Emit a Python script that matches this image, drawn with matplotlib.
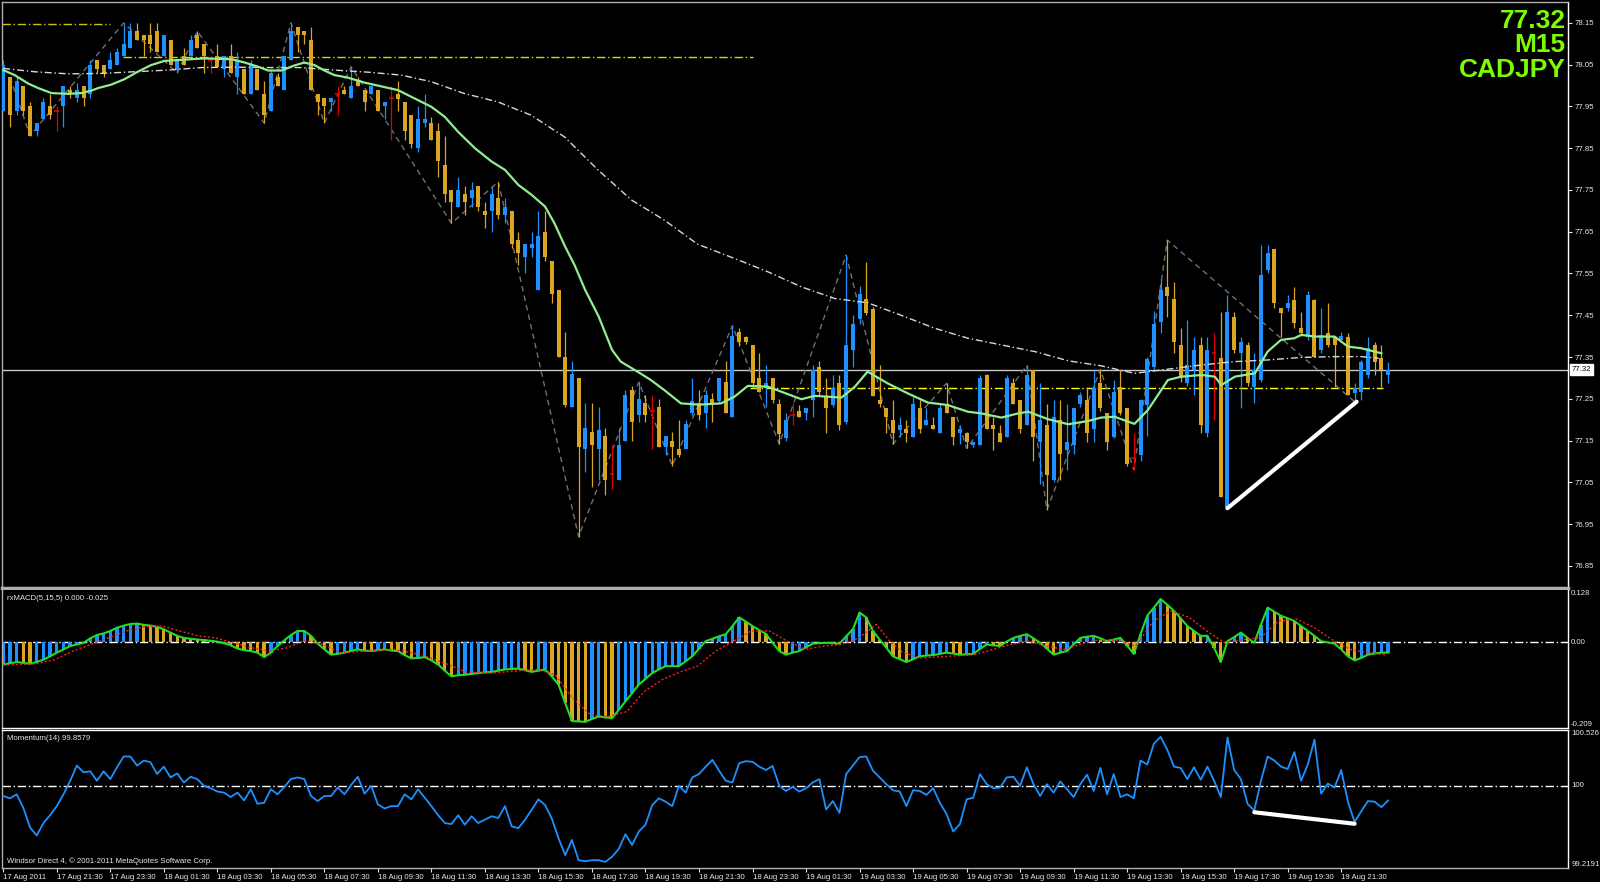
import numpy as np
import matplotlib.pyplot as plt
from matplotlib.transforms import blended_transform_factory

plt.rcParams['font.family'] = ['Liberation Sans', 'DejaVu Sans']

# ------------------------------------------------------------
# CADJPY M15, 17-19 Aug 2011
# ------------------------------------------------------------
opens = [77.94, 78.02, 77.94, 78.00, 77.95, 77.89, 77.92, 77.95, 77.94, 77.95,
         77.99, 77.97, 78.00, 77.98, 78.06, 78.05, 78.04, 78.05, 78.07, 78.09,
         78.13, 78.12, 78.12, 78.13, 78.07, 78.11, 78.04, 78.07, 78.07, 78.12,
         78.10, 78.06, 78.07, 78.04, 78.07, 78.02, 78.04, 77.98, 78.04, 77.98,
         77.94, 78.02, 77.99, 78.06, 78.14, 78.13, 78.11, 77.98, 77.97, 77.96,
         77.98, 77.99, 77.97, 78.01, 77.99, 77.98, 77.99, 77.95, 77.97, 77.98,
         77.96, 77.93, 77.85, 77.91, 77.91, 77.89, 77.81, 77.75, 77.71, 77.74,
         77.73, 77.76, 77.70, 77.70, 77.73, 77.69, 77.70, 77.63, 77.59, 77.61,
         77.51, 77.65, 77.58, 77.51, 77.35, 77.23, 77.30, 77.13, 77.17, 77.13,
         77.16, 77.07, 77.055, 77.15, 77.27, 77.21, 77.24, 77.22, 77.23, 77.135,
         77.15, 77.13, 77.13, 77.215, 77.24, 77.215, 77.25, 77.245, 77.29, 77.207,
         77.41, 77.397, 77.378, 77.30, 77.277, 77.30, 77.237, 77.155, 77.21, 77.22,
         77.217, 77.247, 77.327, 77.255, 77.235, 77.287, 77.195, 77.367, 77.44, 77.49,
         77.466, 77.247, 77.227, 77.199, 77.175, 77.177, 77.159, 77.227, 77.187, 77.187,
         77.167, 77.237, 77.207, 77.167, 77.167, 77.139, 77.139, 77.307, 77.187, 77.167,
         77.159, 77.287, 77.247, 77.187, 77.319, 77.147, 77.187, 77.055, 77.199, 77.127,
         77.139, 77.237, 77.247, 77.177, 77.287, 77.217, 77.159, 77.279, 77.227, 77.108,
         77.115, 77.235, 77.327, 77.435, 77.518, 77.49, 77.379, 77.287, 77.319, 77.379,
         77.167, 77.359, 77.347, 76.988, 77.447, 77.359, 77.379, 77.279, 77.295, 77.558,
         77.608, 77.467, 77.467, 77.487, 77.419, 77.399, 77.487, 77.367, 77.407, 77.399,
         77.39, 77.399, 77.265, 77.267, 77.307, 77.379, 77.347, 77.307]
highs = [78.06, 78.02, 78.02, 78.00, 77.96, 77.91, 77.97, 77.98, 77.95, 78.00,
         78.00, 78.005, 78.00, 78.06, 78.06, 78.05, 78.08, 78.09, 78.15, 78.15,
         78.15, 78.12, 78.15, 78.15, 78.12, 78.11, 78.06, 78.09, 78.12, 78.13,
         78.10, 78.07, 78.10, 78.07, 78.10, 78.08, 78.04, 78.06, 78.04, 78.01,
         78.04, 78.03, 78.07, 78.15, 78.14, 78.13, 78.14, 77.98, 77.97, 77.97,
         78.00, 78.00, 78.045, 78.02, 77.99, 78.00, 77.99, 77.96, 78.00, 78.01,
         77.96, 77.93, 77.95, 77.98, 77.925, 77.91, 77.88, 77.75, 77.78, 77.76,
         77.77, 77.76, 77.72, 77.76, 77.77, 77.73, 77.70, 77.65, 77.62, 77.65,
         77.70, 77.70, 77.58, 77.51, 77.41, 77.34, 77.30, 77.24, 77.24, 77.23,
         77.18, 77.14, 77.18, 77.27, 77.28, 77.29, 77.26, 77.26, 77.25, 77.16,
         77.17, 77.20, 77.20, 77.30, 77.27, 77.27, 77.265, 77.30, 77.34, 77.425,
         77.42, 77.40, 77.378, 77.36, 77.33, 77.30, 77.25, 77.215, 77.24, 77.235,
         77.227, 77.33, 77.34, 77.30, 77.307, 77.307, 77.594, 77.45, 77.52, 77.578,
         77.47, 77.33, 77.227, 77.247, 77.207, 77.199, 77.255, 77.247, 77.227, 77.207,
         77.24, 77.287, 77.207, 77.187, 77.17, 77.147, 77.307, 77.31, 77.207, 77.187,
         77.307, 77.30, 77.247, 77.33, 77.319, 77.287, 77.237, 77.247, 77.247, 77.237,
         77.227, 77.267, 77.279, 77.319, 77.319, 77.217, 77.295, 77.32, 77.227, 77.167,
         77.25, 77.35, 77.46, 77.538, 77.63, 77.53, 77.419, 77.439, 77.399, 77.399,
         77.399, 77.407, 77.458, 77.498, 77.458, 77.399, 77.387, 77.359, 77.618, 77.618,
         77.608, 77.467, 77.498, 77.518, 77.458, 77.508, 77.49, 77.467, 77.479, 77.40,
         77.41, 77.407, 77.287, 77.343, 77.399, 77.387, 77.379, 77.339]
lows = [77.94, 77.90, 77.93, 77.93, 77.88, 77.88, 77.92, 77.92, 77.89, 77.90,
        77.97, 77.96, 77.95, 77.97, 78.03, 78.02, 78.04, 78.05, 78.07, 78.09,
        78.11, 78.07, 78.08, 78.08, 78.07, 78.05, 78.03, 78.05, 78.07, 78.09,
        78.03, 78.03, 78.045, 78.02, 78.03, 77.98, 77.98, 77.98, 77.99, 77.91,
        77.94, 78.00, 77.99, 78.06, 78.08, 78.10, 77.99, 77.93, 77.91, 77.94,
        77.93, 77.98, 77.97, 78.00, 77.94, 77.98, 77.94, 77.92, 77.87, 77.94,
        77.87, 77.85, 77.84, 77.90, 77.87, 77.78, 77.72, 77.67, 77.71, 77.69,
        77.71, 77.70, 77.66, 77.65, 77.68, 77.67, 77.61, 77.57, 77.55, 77.59,
        77.51, 77.58, 77.48, 77.35, 77.23, 77.23, 76.92, 77.075, 77.04, 77.055,
        77.02, 77.035, 77.055, 77.15, 77.15, 77.195, 77.195, 77.13, 77.135, 77.115,
        77.09, 77.11, 77.13, 77.21, 77.20, 77.18, 77.195, 77.24, 77.217, 77.207,
        77.376, 77.38, 77.275, 77.267, 77.231, 77.24, 77.142, 77.15, 77.187, 77.207,
        77.199, 77.207, 77.26, 77.167, 77.23, 77.175, 77.19, 77.327, 77.43, 77.45,
        77.256, 77.23, 77.167, 77.142, 77.159, 77.147, 77.159, 77.167, 77.187, 77.177,
        77.167, 77.217, 77.14, 77.142, 77.131, 77.135, 77.139, 77.177, 77.127, 77.147,
        77.159, 77.237, 77.167, 77.187, 77.10, 77.047, 76.984, 77.05, 77.055, 77.079,
        77.119, 77.23, 77.147, 77.147, 77.22, 77.127, 77.155, 77.21, 77.088, 77.08,
        77.10, 77.16, 77.32, 77.407, 77.447, 77.359, 77.29, 77.28, 77.259, 77.167,
        77.159, 77.199, 77.016, 76.988, 77.36, 77.227, 77.28, 77.239, 77.29, 77.55,
        77.467, 77.399, 77.46, 77.42, 77.40, 77.39, 77.351, 77.36, 77.375, 77.279,
        77.39, 77.259, 77.243, 77.247, 77.30, 77.307, 77.279, 77.287]
closes = [78.05, 77.93, 78.01, 77.94, 77.88, 77.91, 77.96, 77.93, 77.94, 78.00,
          77.98, 77.99, 77.97, 78.05, 78.04, 78.03, 78.06, 78.08, 78.10, 78.13,
          78.11, 78.11, 78.10, 78.08, 78.12, 78.05, 78.06, 78.05, 78.11, 78.09,
          78.07, 78.06, 78.045, 78.07, 78.03, 78.06, 77.98, 78.05, 77.99, 77.93,
          78.03, 78.00, 78.07, 78.13, 78.12, 78.12, 77.99, 77.96, 77.95, 77.97,
          77.98, 77.98, 78.00, 78.00, 77.96, 78.00, 77.94, 77.96, 77.97, 77.967,
          77.89, 77.86, 77.92, 77.92, 77.87, 77.82, 77.74, 77.72, 77.75, 77.72,
          77.75, 77.71, 77.69, 77.74, 77.69, 77.71, 77.62, 77.60, 77.62, 77.62,
          77.64, 77.59, 77.50, 77.35, 77.235, 77.31, 77.135, 77.18, 77.14, 77.175,
          77.055, 77.07, 77.14, 77.26, 77.195, 77.25, 77.21, 77.22, 77.135, 77.16,
          77.135, 77.115, 77.19, 77.245, 77.21, 77.26, 77.235, 77.30, 77.217, 77.40,
          77.387, 77.387, 77.287, 77.267, 77.287, 77.247, 77.165, 77.199, 77.21, 77.207,
          77.227, 77.319, 77.267, 77.227, 77.275, 77.187, 77.378, 77.43, 77.50, 77.456,
          77.256, 77.237, 77.207, 77.167, 77.187, 77.167, 77.237, 77.177, 77.199, 77.177,
          77.227, 77.217, 77.159, 77.177, 77.147, 77.147, 77.30, 77.177, 77.177, 77.147,
          77.30, 77.237, 77.177, 77.307, 77.159, 77.199, 77.067, 77.207, 77.119, 77.147,
          77.227, 77.259, 77.167, 77.277, 77.227, 77.147, 77.267, 77.215, 77.095, 77.108,
          77.247, 77.346, 77.43, 77.51, 77.496, 77.387, 77.299, 77.331, 77.367, 77.187,
          77.367, 77.359, 77.016, 77.458, 77.367, 77.387, 77.287, 77.319, 77.546, 77.598,
          77.479, 77.456, 77.479, 77.431, 77.407, 77.498, 77.351, 77.403, 77.379, 77.379,
          77.40, 77.259, 77.275, 77.339, 77.371, 77.339, 77.319, 77.32]

# moving averages (bar index, price)
ma_fast_x = [0, 1.7, 3.7, 5.2, 7.2, 9.7, 11.7, 13.2, 14.2, 16.1, 18.1, 20.1, 22.1, 24.1,
             26.1, 28.1, 30.1, 32.1, 34.1, 36.1, 38.1, 39.6, 41.6, 43.5, 45.0, 46.5, 48.0,
             49.5, 51.5, 54, 59, 62, 64, 66, 68, 70.5, 73, 75, 77, 79, 81, 82.4, 84, 85.4,
             87, 89, 91, 92.3, 94.8, 96.8, 98.8, 101.3, 104, 107.3, 109.3, 111.3, 114.3,
             116.3, 119.3, 121.3, 123.3, 125.3, 127.3, 129.2, 132.2, 135.2, 138.2, 141.2,
             144.2, 146.2, 149.2, 151.7, 153.2, 156.2, 159.2, 162.2, 164.1, 166.1, 169.1,
             171.1, 174.1, 176.1, 179.1, 181.1, 182.1, 184.1, 187.1, 189, 191, 193, 194,
             196.1, 199, 201, 203, 206]
ma_fast_y = [78.037, 78.025, 78.005, 77.994, 77.982, 77.980, 77.982, 77.988, 77.994, 78.002,
             78.015, 78.033, 78.049, 78.059, 78.061, 78.063, 78.065, 78.064, 78.063, 78.055,
             78.045, 78.036, 78.036, 78.048, 78.055, 78.049, 78.036, 78.025, 78.019, 78.007,
             77.989, 77.965, 77.949, 77.925, 77.889, 77.850, 77.818, 77.798, 77.762, 77.738,
             77.710, 77.670, 77.614, 77.570, 77.510, 77.447, 77.367, 77.339, 77.315, 77.295,
             77.271, 77.239, 77.236, 77.239, 77.255, 77.281, 77.279, 77.267, 77.249, 77.257,
             77.255, 77.253, 77.279, 77.315, 77.287, 77.263, 77.241, 77.235, 77.219, 77.215,
             77.205, 77.215, 77.219, 77.201, 77.189, 77.197, 77.205, 77.207, 77.190, 77.223,
             77.295, 77.303, 77.307, 77.303, 77.283, 77.303, 77.311, 77.363, 77.391, 77.395,
             77.403, 77.399, 77.399, 77.375, 77.371, 77.359]
ma_slow_x = [0, 4.7, 9.7, 14.6, 19.6, 24.6, 29.6, 34.6, 39.6, 44.5, 49.5, 54.5, 59.5, 64,
             68.9, 73.9, 78.9, 83.9, 88.9, 93.9, 98.8, 103.8, 109.3, 114.3, 119.3, 124.3,
             129.2, 134.2, 139.2, 144.2, 149.2, 154.2, 159.2, 164.1, 169.1, 174.1, 179.1,
             184.1, 189, 194, 199, 203, 205.6]
ma_slow_y = [78.041, 78.033, 78.028, 78.029, 78.033, 78.037, 78.043, 78.044, 78.043, 78.043,
             78.037, 78.032, 78.025, 78.009, 77.981, 77.961, 77.929, 77.877, 77.798, 77.726,
             77.678, 77.620, 77.586, 77.554, 77.518, 77.490, 77.480, 77.450, 77.419, 77.395,
             77.379, 77.363, 77.341, 77.329, 77.311, 77.321, 77.331, 77.339, 77.343, 77.349,
             77.351, 77.351, 77.347]

# zigzag swing points (bar index, price)
zz_x = [1, 4, 18, 26, 29, 39, 43, 48, 52, 67, 74, 86, 95, 100, 109, 116, 126, 133,
        141, 144, 153, 156, 164, 169, 174, 202]
zz_y = [78.02, 77.88, 78.15, 78.03, 78.13, 77.91, 78.15, 77.91, 78.045, 77.67, 77.77,
        76.92, 77.29, 77.09, 77.425, 77.142, 77.594, 77.142, 77.287, 77.131, 77.33,
        76.984, 77.32, 77.08, 77.63, 77.243]

# horizontal levels: (start bar, end bar, price)
level_start = [-0.2, 17.9, 111.6]
level_end = [15.9, 112.0, 206.2]
level_price = [78.148, 78.068, 77.277]
level_color = ['#C8C800', '#D8D800', '#FFFF00']

last_price = 77.32
trend_x = [183, 202.3]
trend_y = [76.988, 77.243]

# rxMACD(5,15,5)
macd = [-0.054, -0.051, -0.048, -0.050, -0.052, -0.048, -0.042, -0.034, -0.025, -0.017,
        -0.009, -0.005, -0.001, 0.010, 0.018, 0.022, 0.028, 0.036, 0.041, 0.045,
        0.046, 0.043, 0.041, 0.038, 0.032, 0.024, 0.016, 0.011, 0.009, 0.007,
        0.006, 0.004, 0.002, -0.002, -0.007, -0.015, -0.019, -0.021, -0.025, -0.036,
        -0.025, -0.009, 0.005, 0.018, 0.028, 0.028, 0.016, -0.003, -0.017, -0.030,
        -0.028, -0.025, -0.021, -0.017, -0.020, -0.021, -0.019, -0.017, -0.020, -0.021,
        -0.031, -0.039, -0.038, -0.036, -0.044, -0.054, -0.069, -0.083, -0.080, -0.079,
        -0.077, -0.075, -0.073, -0.072, -0.069, -0.066, -0.065, -0.064, -0.068, -0.072,
        -0.069, -0.066, -0.083, -0.103, -0.148, -0.192, -0.193, -0.194, -0.187, -0.181,
        -0.183, -0.185, -0.165, -0.144, -0.124, -0.103, -0.089, -0.075, -0.066, -0.058,
        -0.058, -0.058, -0.046, -0.034, -0.015, 0.003, 0.009, 0.015, 0.020, 0.040,
        0.061, 0.051, 0.040, 0.030, 0.021, -0.001, -0.021, -0.030, -0.025, -0.021,
        -0.012, -0.003, -0.002, -0.001, -0.002, -0.003, 0.015, 0.032, 0.073, 0.061,
        0.028, 0.007, -0.013, -0.034, -0.041, -0.048, -0.041, -0.034, -0.032, -0.031,
        -0.028, -0.025, -0.027, -0.030, -0.029, -0.028, -0.016, -0.005, -0.007, -0.009,
        0.002, 0.011, 0.016, 0.020, 0.010, -0.001, -0.015, -0.030, -0.025, -0.021,
        -0.005, 0.011, 0.014, 0.016, 0.010, 0.003, 0.007, 0.011, -0.008, -0.028,
        0.020, 0.065, 0.085, 0.106, 0.092, 0.077, 0.059, 0.040, 0.028, 0.016,
        0.016, -0.013, -0.048, 0.003, 0.013, 0.024, 0.011, -0.001, 0.043, 0.085,
        0.075, 0.065, 0.059, 0.052, 0.040, 0.028, 0.016, 0.003, 0.000, -0.003,
        -0.017, -0.034, -0.044, -0.038, -0.030, -0.027, -0.025, -0.025]
signal_x = [0, 5, 7.7, 10.4, 13.1, 15.7, 18.4, 21.1, 23.7, 26.4, 29.1, 31.7, 34.4, 37.1,
            39.8, 42.4, 45.1, 47.8, 50.4, 54.4, 58.4, 62.5, 66.5, 69.1, 73.1, 77.1, 79.8,
            82.5, 85.1, 87.8, 90.5, 93.2, 95.8, 98.5, 101.2, 103.8, 106.5, 109.2, 111.8,
            114.5, 117.2, 119.9, 122.5, 125.2, 127.9, 130.5, 132.5, 134.5, 137.2, 141.2,
            145.2, 147.9, 150.6, 153.2, 155.9, 158.6, 161.3, 163.9, 166.6, 169.3, 171.9,
            174.6, 177.3, 179.9, 182.6, 185.3, 187.9, 190.6, 193.3, 196, 198.6, 201.3,
            204, 206.6]
signal_y = [-0.055, -0.052, -0.042, -0.021, -0.005, 0.011, 0.028, 0.038, 0.040, 0.028,
            0.016, 0.011, -0.001, -0.013, -0.021, -0.013, 0.005, -0.005, -0.025, -0.021,
            -0.017, -0.030, -0.054, -0.072, -0.075, -0.069, -0.066, -0.079, -0.136, -0.177,
            -0.181, -0.169, -0.120, -0.091, -0.072, -0.058, -0.021, 0.003, 0.028, 0.028,
            0.003, -0.017, -0.009, -0.005, 0.011, 0.044, 0.003, -0.025, -0.038, -0.034,
            -0.030, -0.017, -0.005, 0.003, -0.009, -0.017, -0.003, 0.007, 0.005, -0.009,
            0.052, 0.077, 0.061, 0.028, -0.001, 0.007, 0.011, 0.052, 0.057, 0.036,
            0.007, -0.017, -0.025, -0.030]

# Momentum(14)
momentum = [99.901, 99.879, 99.917, 99.789, 99.603, 99.527, 99.645, 99.719, 99.805, 99.917,
            100.045, 100.189, 100.125, 100.135, 100.045, 100.135, 100.061, 100.173, 100.275, 100.275,
            100.189, 100.237, 100.221, 100.109, 100.179, 100.077, 100.115, 100.029, 100.083, 100.061,
            99.997, 99.975, 99.943, 99.933, 99.891, 99.933, 99.859, 99.965, 99.827, 99.837,
            99.965, 99.917, 99.987, 100.061, 100.077, 100.061, 99.901, 99.853, 99.901, 99.901,
            99.981, 99.917, 100.007, 100.083, 99.923, 99.997, 99.821, 99.783, 99.805, 99.805,
            99.917, 99.869, 99.965, 99.885, 99.805, 99.719, 99.645, 99.635, 99.719, 99.629,
            99.709, 99.645, 99.677, 99.709, 99.693, 99.805, 99.613, 99.597, 99.677, 99.773,
            99.869, 99.815, 99.687, 99.501, 99.341, 99.485, 99.293, 99.283, 99.293, 99.293,
            99.277, 99.325, 99.399, 99.539, 99.437, 99.565, 99.629, 99.815, 99.879, 99.847,
            99.805, 99.997, 99.933, 100.077, 100.109, 100.179, 100.243, 100.141, 100.045, 100.029,
            100.211, 100.231, 100.224, 100.179, 100.147, 100.186, 99.997, 99.949, 99.987, 99.943,
            99.975, 100.029, 100.061, 99.773, 99.853, 99.741, 100.109, 100.189, 100.269, 100.275,
            100.141, 100.077, 100.013, 99.955, 99.943, 99.805, 99.955, 99.949, 99.911, 99.975,
            99.837, 99.731, 99.565, 99.635, 99.869, 99.885, 100.109, 100.013, 99.975, 99.981,
            100.077, 100.083, 99.997, 100.173, 100.013, 99.901, 100.013, 99.933, 100.039, 99.965,
            99.891, 100.013, 100.103, 99.949, 100.167, 99.917, 100.109, 99.891, 99.917, 99.879,
            100.237, 100.199, 100.397, 100.461, 100.339, 100.179, 100.167, 100.061, 100.173, 100.055,
            100.179, 100.045, 99.891, 100.455, 100.147, 100.061, 99.827, 99.763, 100.045, 100.275,
            100.237, 100.179, 100.157, 100.317, 100.045, 100.199, 100.435, 99.923, 100.019, 99.981,
            100.147, 99.847, 99.655, 99.757, 99.853, 99.847, 99.795, 99.858]
mom_trend_x = [187, 202]
mom_trend_y = [99.747, 99.638]

price_ticks = [78.15, 78.05, 77.95, 77.85, 77.75, 77.65, 77.55, 77.45, 77.35,
               77.25, 77.15, 77.05, 76.95, 76.85]
time_tick_bars = [0, 8, 16, 24, 32, 40, 48, 56, 64, 72, 80, 88, 96, 104, 112,
                  120, 128, 136, 144, 152, 160, 168, 176, 184, 192, 200]
time_tick_labels = ["17 Aug 2011", "17 Aug 21:30", "17 Aug 23:30", "18 Aug 01:30",
                    "18 Aug 03:30", "18 Aug 05:30", "18 Aug 07:30", "18 Aug 09:30",
                    "18 Aug 11:30", "18 Aug 13:30", "18 Aug 15:30", "18 Aug 17:30",
                    "18 Aug 19:30", "18 Aug 21:30", "18 Aug 23:30", "19 Aug 01:30",
                    "19 Aug 03:30", "19 Aug 05:30", "19 Aug 07:30", "19 Aug 09:30",
                    "19 Aug 11:30", "19 Aug 13:30", "19 Aug 15:30", "19 Aug 17:30",
                    "19 Aug 19:30", "19 Aug 21:30"]

# ------------------------------------------------------------
BULL = '#1E90FF'
BEAR = '#DAA520'
DOJI = '#E00000'
TXT = '#E8E8E8'
LBL = 5.6
W, H = 1600, 882

fig = plt.figure(figsize=(16, 8.82), dpi=100, facecolor='black')


def px_axes(x0, y0, x1, y1):
    a = fig.add_axes([x0 / W, 1 - y1 / H, (x1 - x0) / W, (y1 - y0) / H])
    a.set_facecolor('black')
    a.set_xlim(-0.19, 233.9)
    a.set_xticks([])
    for s in a.spines.values():
        s.set_color('#B0B0B0')
        s.set_linewidth(1)
    a.spines['right'].set_color('white')
    return a


ax = px_axes(2, 2, 1568, 588)
axm = px_axes(2, 590, 1568, 728)
axp = px_axes(2, 730, 1568, 868)
ax.spines['bottom'].set_linewidth(2.5)
axm.spines['top'].set_visible(False)
axm.spines['bottom'].set_color('white')
axp.spines['top'].set_color('white')

# ---- price panel ----
o, h, l, c = map(np.array, (opens, highs, lows, closes))
idx = np.arange(len(c))
cols = np.where(c > o, BULL, np.where(c < o, BEAR, DOJI))
ax.vlines(idx, l, h, colors=cols, lw=0.9, zorder=3)
ax.bar(idx, np.abs(c - o), bottom=np.minimum(o, c), width=0.6, color=cols,
       linewidth=0, zorder=3)
dj = c == o
ax.hlines(c[dj], idx[dj] - 0.35, idx[dj] + 0.35, colors=DOJI, lw=1.2, zorder=3)

for xs, xe, p, col in zip(level_start, level_end, level_price, level_color):
    ax.plot([xs, xe], [p, p], color=col, lw=1, dashes=(6, 2, 1, 2), zorder=2)
ax.axhline(last_price, color='#C8C8C8', lw=1, zorder=1)
ax.plot(zz_x, zz_y, color='#707070', lw=1, dashes=(4, 3), zorder=2)
ax.plot(ma_slow_x, ma_slow_y, color='#D8D8D8', lw=1, dashes=(5, 2, 1, 2), zorder=4)
ax.plot(ma_fast_x, ma_fast_y, color='#90EE90', lw=1.6, zorder=4)
ax.plot(trend_x, trend_y, color='white', lw=3, solid_capstyle='round', zorder=5)

ax.set_ylim(76.797, 78.2)
ax.yaxis.tick_right()
ax.set_yticks(price_ticks)
ax.set_yticklabels([f'{p:.2f}' for p in price_ticks])
ax.tick_params(axis='y', colors=TXT, length=3, width=0.8, labelsize=LBL, pad=1.5)
ax.annotate(f'{last_price:.2f}', xy=(1, last_price), xycoords=('axes fraction', 'data'),
            xytext=(2.5, 0), textcoords='offset points', va='center', ha='left',
            fontsize=LBL, color='black',
            bbox=dict(boxstyle='square,pad=0.2', fc='white', ec='white'))

for y, s in zip([0.968, 0.926, 0.884], ['77.32', 'M15', 'CADJPY']):
    ax.text(0.9985, y, s, transform=ax.transAxes, ha='right', va='center',
            fontsize=19, fontweight='bold', color='#7CFC00')

# ---- MACD panel ----
m = np.array(macd)
rising = np.r_[True, np.diff(m) >= 0]
axm.bar(idx, m, width=0.5, color=np.where(rising, BULL, BEAR), linewidth=0, zorder=2)
axm.plot(idx, m, color='#22DD22', lw=1.5, zorder=3)
axm.plot(signal_x, signal_y, color='#FF2020', lw=1, dashes=(1.5, 1.5), zorder=4)
axm.axhline(0, color='white', lw=1, dashes=(6, 2, 1, 2), zorder=1)
axm.set_ylim(-0.209, 0.128)
axm.set_yticks([])
tm = blended_transform_factory(axm.transAxes, axm.transData)
axm.text(1.002, 0.128, '0.128', transform=tm, va='top', ha='left', fontsize=LBL, color=TXT)
axm.text(1.002, 0.0, '0.00', transform=tm, va='center', ha='left', fontsize=LBL, color=TXT)
axm.text(1.002, -0.209, '-0.209', transform=tm, va='bottom', ha='left', fontsize=LBL, color=TXT)
axm.text(0.003, 0.94, 'rxMACD(5,15,5) 0.000 -0.025', transform=axm.transAxes,
         va='center', ha='left', fontsize=LBL, color=TXT)

# ---- Momentum panel ----
axp.plot(idx, momentum, color=BULL, lw=1.3, zorder=3)
axp.plot(mom_trend_x, mom_trend_y, color='white', lw=3, solid_capstyle='round', zorder=4)
axp.axhline(100, color='white', lw=1, dashes=(6, 2, 1, 2), zorder=1)
axp.set_ylim(99.2191, 100.526)
axp.set_yticks([])
tp = blended_transform_factory(axp.transAxes, axp.transData)
axp.text(1.002, 100.526, '100.526', transform=tp, va='top', ha='left', fontsize=LBL, color=TXT)
axp.text(1.002, 100.0, '100', transform=tp, va='center', ha='left', fontsize=LBL, color=TXT)
axp.text(1.002, 99.2191, '99.2191', transform=tp, va='bottom', ha='left', fontsize=LBL, color=TXT)
axp.text(0.003, 0.935, 'Momentum(14) 99.8579', transform=axp.transAxes,
         va='center', ha='left', fontsize=LBL, color=TXT)
axp.text(0.003, 0.05, 'Windsor Direct 4, \u00a9 2001-2011 MetaQuotes Software Corp.',
         transform=axp.transAxes, va='center', ha='left', fontsize=LBL, color=TXT)

axp.set_xticks(time_tick_bars)
axp.set_xticklabels(time_tick_labels)
axp.tick_params(axis='x', colors=TXT, length=3, width=0.8, labelsize=LBL, pad=1.5)
for t in axp.get_xticklabels():
    t.set_ha('left')

fig.savefig('out.png', dpi=100, facecolor='black')
